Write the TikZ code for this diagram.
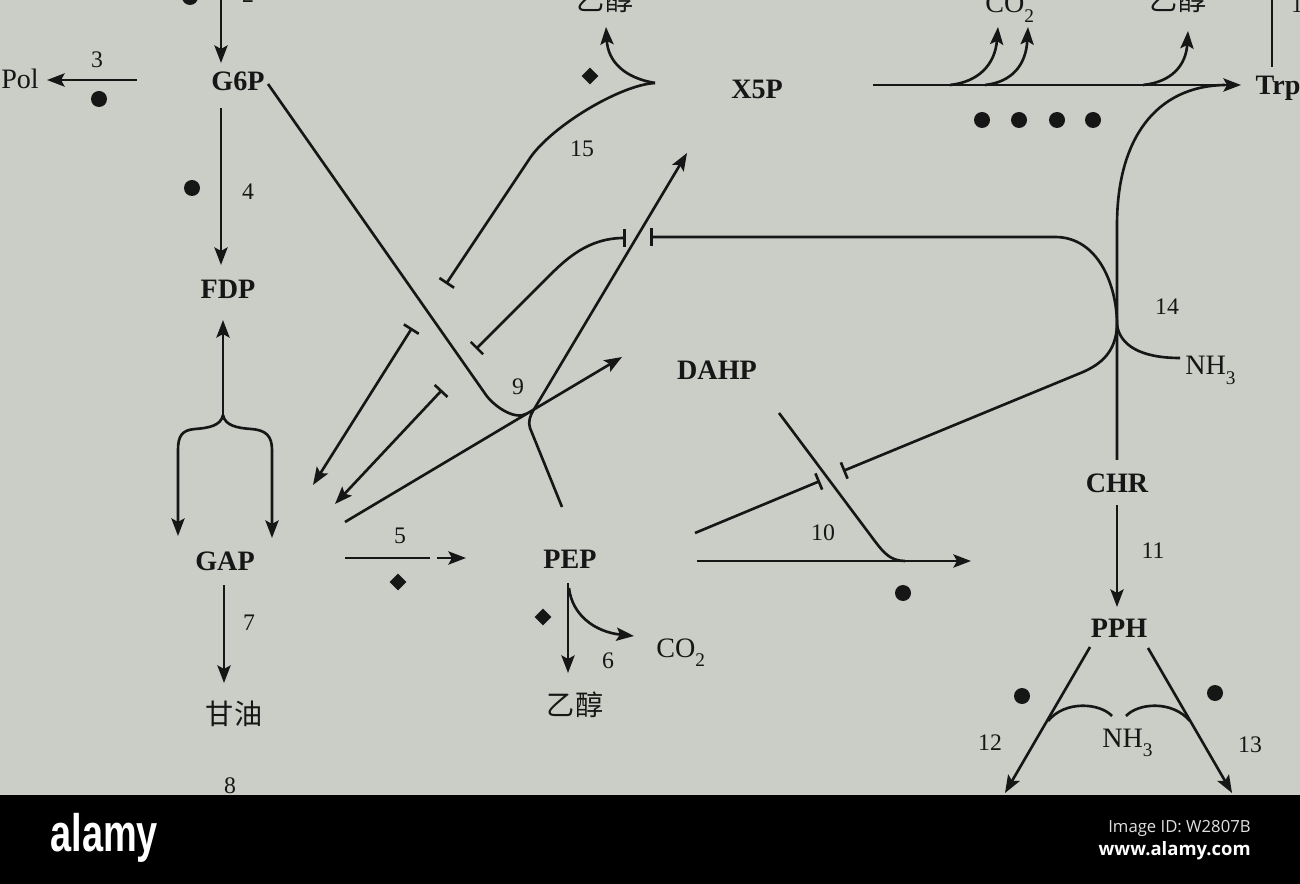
\documentclass[tikz,border=0pt]{standalone}
\usepackage{fontspec}
\setmainfont{Liberation Serif}
\newfontfamily\cjk{Noto Sans CJK SC}
\newfontfamily\logofont[FakeStretch=0.72]{Liberation Sans}
\newfontfamily\idfont{Open Sans}
\usetikzlibrary{arrows.meta,shapes.geometric}
\definecolor{paper}{RGB}{203,205,199}
\definecolor{ink}{RGB}{22,22,22}
\newcommand\msub[1]{\raisebox{-0.35em}{\fontsize{11}{11}\selectfont #1}}
\begin{document}
\begin{tikzpicture}[x=0.02cm,y=-0.02cm,
  met/.style={font=\fontsize{16}{18}\selectfont\bfseries, inner sep=0pt, anchor=base, text=ink},
  chem/.style={font=\fontsize{16}{18}\selectfont, inner sep=0pt, anchor=base west, text=ink},
  num/.style={font=\fontsize{13.5}{15}\selectfont, inner sep=0pt, anchor=base, text=ink},
  zh/.style={font=\cjk\fontsize{16}{18}\selectfont, inner sep=0pt, anchor=base, text=ink},
  ln/.style={draw=ink, line width=1.5pt},
  arr/.style={ln, -{Stealth[length=10pt,width=7.5pt,inset=2pt]}},
  inh/.style={ln, -{Bar[width=10pt]}},
  inhboth/.style={ln, {Bar[width=10pt]}-{Bar[width=10pt]}},
  bararr/.style={ln, {Bar[width=10pt]}-{Stealth[length=10pt,width=7.5pt,inset=2pt]}},
  dotm/.style={circle, fill=ink, inner sep=0pt, minimum size=0.32cm},
  diam/.style={diamond, fill=ink, inner sep=0pt, minimum size=0.34cm}]
\clip (0,0) rectangle (1300,884);
\fill[paper] (0,0) rectangle (1300,795);

% ---------- metabolites ----------
\node[met, font=\fontsize{16}{18}\selectfont] (pol) at (20,89) {Pol};
\node[met] (g6p) at (238,91) {G6P};
\node[met] (fdp) at (228,299) {FDP};
\node[met] (gap) at (225,570) {GAP};
\node[met] (pep) at (570,568) {PEP};
\node[met] (dahp) at (717,380) {DAHP};
\node[met] (x5p) at (757,99) {X5P};
\node[met] (trp) at (1278,95) {Trp};
\node[met] (chr) at (1117,492) {CHR};
\node[met] (pph) at (1119,637) {PPH};

\node[zh] (gly) at (234,724) {甘油};
\node[zh] (eth1) at (575,715) {乙醇};
\node[zh] (eth2) at (605,11) {乙醇};
\node[zh] (eth3) at (1178,11) {乙醇};
\node[chem] (co2a) at (985,13) {CO\msub{2}};
\node[chem] (co2b) at (656,657) {CO\msub{2}};
\node[chem] (nh3a) at (1185,375) {NH\msub{3}};
\node[chem] (nh3b) at (1102,747) {NH\msub{3}};

% ---------- step numbers ----------
\node[num] (n1) at (1297,13) {1};
\node[num] (n2) at (248,3) {2};
\node[num] (n3) at (97,68) {3};
\node[num] (n4) at (248,200) {4};
\node[num] (n5) at (400,543) {5};
\node[num] (n6) at (608,668) {6};
\node[num] (n7) at (249,630) {7};
\node[num] (n8) at (230,793) {8};
\node[num] (n9) at (518,395) {9};
\node[num] (n10) at (823,540) {10};
\node[num] (n11) at (1153,558) {11};
\node[num] (n12) at (990,750) {12};
\node[num] (n13) at (1250,752) {13};
\node[num] (n14) at (1167,315) {14};
\node[num] (n15) at (582,157) {15};

% ---------- markers ----------
\node[dotm] (dA) at (190,-3) {};
\node[dotm] (dB) at (99,99) {};
\node[dotm] (dC) at (192,188) {};
\node[dotm] (dD) at (982,120) {};
\node[dotm] (dE) at (1019,120) {};
\node[dotm] (dF) at (1057,120) {};
\node[dotm] (dG) at (1093,120) {};
\node[dotm] (dH) at (903,593) {};
\node[dotm] (dI) at (1022,696) {};
\node[dotm] (dJ) at (1215,693) {};
\node[diam] (mA) at (590,76) {};
\node[diam] (mB) at (398,582) {};
\node[diam] (mC) at (543,617) {};

% ---------- coordinates ----------
\coordinate (top2) at (221,-10);
\coordinate (g6pIn) at (221,63);
\coordinate (g6pOut) at (221,108);
\coordinate (fdpIn) at (221,265);
\coordinate (polIn) at (47,80);
\coordinate (g6pW) at (137,80);
\coordinate (fork) at (223,415);
\coordinate (fdpUp) at (223,320);
\coordinate (gapL) at (178,536);
\coordinate (gapR) at (272,538);
\coordinate (gapDown) at (224,585);
\coordinate (glyIn) at (224,683);
\coordinate (gapE) at (345,558);
\coordinate (r5a) at (430,558);
\coordinate (r5b) at (437,558);
\coordinate (pepIn) at (466,558);
\coordinate (pepDown) at (568,583);
\coordinate (ethIn) at (568,673);
\coordinate (co2In) at (634,636);
\coordinate (gapNE) at (345,522);
\coordinate (dahpIn) at (622,357);
\coordinate (hubA) at (527,413.6);
\coordinate (hubB) at (533,411);
\coordinate (pepUp) at (562,507);
\coordinate (x5pIn) at (687,153);
\coordinate (x5pOut) at (873,85);
\coordinate (trpIn) at (1241,85);
\coordinate (hubC) at (1117,325);
\coordinate (chrUp) at (1117,460);
\coordinate (chrDown) at (1117,505);
\coordinate (pphIn) at (1117,607);
\coordinate (r15) at (655,83);

% ---------- reactions ----------
\draw[arr] (top2) -- (g6pIn);
\draw[arr] (g6pW) -- (polIn);
\draw[arr] (g6pOut) -- (fdpIn);
\draw[ln] (1272,-5) -- (1272,67);

% FDP <-> GAP fork
\draw[arr] (fork) -- (fdpUp);
\draw[arr] (fork) .. controls (221,426) and (208,428) .. (195,429)
  .. controls (182,430) and (178,436) .. (178,450) -- (gapL);
\draw[arr] (fork) .. controls (225,426) and (238,428) .. (251,429)
  .. controls (266,430) and (272,436) .. (272,450) -- (gapR);

% GAP -> glycerol, GAP -> PEP
\draw[arr] (gapDown) -- (glyIn);
\draw[ln] (gapE) -- (r5a);
\draw[arr] (r5b) -- (pepIn);

% PEP -> ethanol / CO2
\draw[arr] (pepDown) -- (ethIn);
\draw[arr] (569,588) .. controls (572,615) and (595,632) .. (co2In);

% reaction 9 hub
\draw[arr] (gapNE) -- (dahpIn);
\draw[ln] (268,84) -- (486,395) .. controls (493,405) and (514,421) .. (hubA);
\draw[arr] (pepUp) -- (530,428) .. controls (528,422) and (530,416) .. (hubB) -- (x5pIn);

% regulation arrows into GAP
\draw[bararr] (412,328) -- (313,485);
\draw[bararr] (442,390) -- (335,504);

% reaction 15
\draw[inh] (r15) .. controls (620,85) and (552,126) .. (530,158) -- (446,284);
\draw[arr] (r15) .. controls (625,78) and (608,62) .. (606,27);

% inhibition lines crossing the X5P arrow
\draw[inhboth] (476,349) -- (548,277) .. controls (566,259) and (588,238) .. (626,238);
\draw[inh] (hubC) .. controls (1117,285) and (1098,237) .. (1055,237) -- (650,237);

% X5P -> Trp
\draw[arr] (x5pOut) -- (trpIn);
\draw[arr] (950,85) .. controls (978,82) and (995,65) .. (998,27);
\draw[arr] (985,85) .. controls (1012,82) and (1026,65) .. (1028,27);
\draw[arr] (1143,85) .. controls (1172,82) and (1186,65) .. (1188,31);
\draw[ln] (chrUp) -- (1117,225) .. controls (1117,140) and (1155,86) .. (1225,85);

% reaction 14 branches
\draw[ln] (hubC) .. controls (1120,345) and (1140,358) .. (1180,358);
\draw[inh] (hubC) .. controls (1116,352) and (1101,364) .. (1083,372) -- (843,471);

% reaction 10
\draw[arr] (697,561) -- (971,561);
\draw[ln] (779,413) -- (874,540) .. controls (883,552) and (890,561) .. (905,561);
\draw[inh] (695,533) -- (820,481);

% CHR -> PPH -> products
\draw[arr] (chrDown) -- (pphIn);
\draw[arr] (1090,647) -- (1005,793);
\draw[arr] (1148,648) -- (1232,793);
\draw[ln] (1112,716) .. controls (1100,703) and (1065,700) .. (1048,721);
\draw[ln] (1126,716) .. controls (1138,703) and (1172,700) .. (1190,721);

% ---------- bottom banner ----------
\fill[black] (0,795) rectangle (1300,884);
\node[font=\logofont\bfseries\fontsize{30}{30}\selectfont, text=white, anchor=base west, inner sep=0pt] (logo) at (50,851) {alamy};
\node[font=\idfont\fontsize{9.5}{10}\selectfont, text=white!88!black, anchor=base east, inner sep=0pt] (imgid) at (1251,832) {Image ID: W2807B};
\node[font=\idfont\bfseries\fontsize{10.5}{11}\selectfont, text=white, anchor=base east, inner sep=0pt] (www) at (1251,855) {www.alamy.com};
\end{tikzpicture}
\end{document}
